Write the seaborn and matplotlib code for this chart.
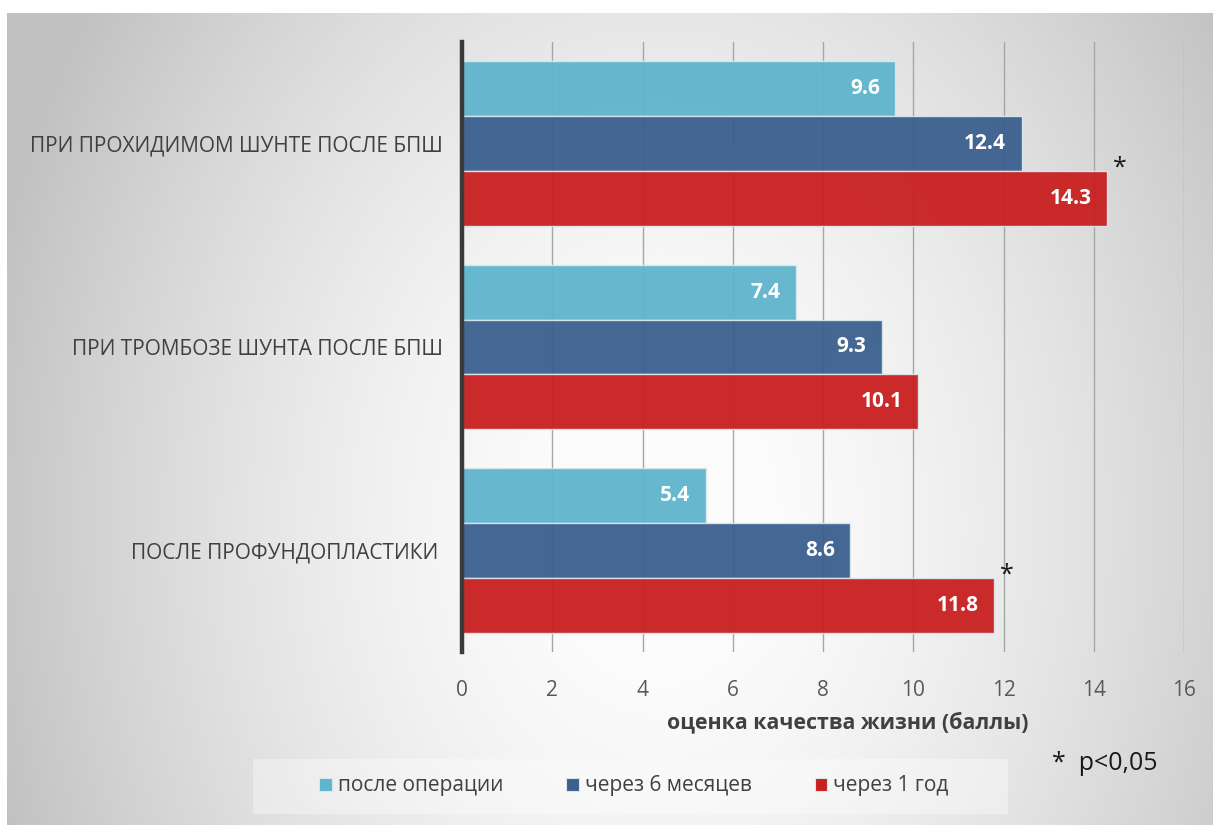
import numpy as np
import pandas as pd
import matplotlib
matplotlib.use("Agg")
import matplotlib.pyplot as plt
from matplotlib.patches import Rectangle, Patch
import seaborn as sns

sns.set_theme(style="white")
plt.rcParams["font.family"] = ["Open Sans", "DejaVu Sans"]

# Data
categories = [
    "ПРИ ПРОХИДИМОМ ШУНТЕ ПОСЛЕ БПШ",
    "ПРИ ТРОМБОЗЕ ШУНТА ПОСЛЕ БПШ",
    "ПОСЛЕ ПРОФУНДОПЛАСТИКИ ",
]
periods = ["после операции", "через 6 месяцев", "через 1 год"]
after_surgery = [9.6, 7.4, 5.4]
after_6_months = [12.4, 9.3, 8.6]
after_1_year = [14.3, 10.1, 11.8]
significant = [True, False, True]   # p<0,05 for the 1-year value
x_ticks = [0, 2, 4, 6, 8, 10, 12, 14, 16]

colors = ["#5fb5cc", "#3b5f8e", "#c8201f"]

rows = []
for period, vals in zip(periods, [after_surgery, after_6_months, after_1_year]):
    for cat, v in zip(categories, vals):
        rows.append({"category": cat, "period": period, "value": v})
df = pd.DataFrame(rows)

W, H = 1213, 825
fig = plt.figure(figsize=(W / 100, H / 100), dpi=100)
fig.patch.set_facecolor("white")

# Elliptical grey gradient panel, light in the middle
bg = fig.add_axes([7 / W, 0, (W - 7) / W, (H - 13) / H])
bg.set_axis_off()
yy, xx = np.mgrid[0:H - 13, 0:W - 7]
cx, cy = 650, 510
r = np.sqrt(((xx - cx) / 650.0) ** 2 + ((yy - cy) / 860.0) ** 2)
v = 1.0 - 0.22 * np.clip(r, 0, 1.1) ** 1.6
v = np.clip(v, 0.76, 0.985)
bg.imshow(np.dstack([v, v, v]), aspect="auto", extent=[0, 1, 0, 1], origin="upper")
bg.set_xlim(0, 1)
bg.set_ylim(0, 1)

ax = fig.add_axes([462 / W, 1 - 652 / H, (1184 - 462) / W, (652 - 42) / H])
ax.patch.set_alpha(0)

sns.barplot(data=df, y="category", x="value", hue="period", order=categories,
            hue_order=periods, palette=colors, saturation=1, orient="h",
            width=0.81, ax=ax, legend=False, edgecolor="#dbe6ec",
            linewidth=1.0, alpha=0.95, zorder=3)

ax.set_xlim(0, 16)
ax.set_ylim(2.5, -0.5)
ax.set_xticks(x_ticks)
ax.set_xticklabels([str(t) for t in x_ticks], fontsize=15, color="#595959")
ax.tick_params(axis="x", length=0, pad=20)
ax.set_yticks(range(len(categories)))
ax.set_yticklabels(categories, fontsize=15, color="#404040")
ax.tick_params(axis="y", length=0, pad=13.5)
ax.set_xlabel("")
ax.set_ylabel("")
ax.grid(axis="x", color="#a6a6a6", linewidth=1.0, zorder=0)
ax.grid(axis="y", visible=False)
for s in ["top", "right", "bottom"]:
    ax.spines[s].set_visible(False)
ax.spines["left"].set_color("#3a3a3a")
ax.spines["left"].set_linewidth(3.2)
ax.spines["left"].set_zorder(5)

# Value labels inside bar ends
for container, vals in zip(ax.containers, [after_surgery, after_6_months, after_1_year]):
    for patch, val in zip(container.patches, vals):
        ax.annotate(f"{val}", xy=(val, patch.get_y() + patch.get_height() / 2),
                    xytext=(-11, 0), textcoords="offset points", ha="right",
                    va="center", color="white", fontsize=15, fontweight="bold",
                    zorder=6)

# Significance marks
for container in ax.containers[2:]:
    for patch, val, sig in zip(container.patches, after_1_year, significant):
        if sig:
            ax.annotate("*", xy=(val, patch.get_y()), xytext=(9, 2),
                        textcoords="offset points", ha="center", va="center",
                        fontsize=18, color="#1a1a1a", zorder=6)

fig.text(848 / W, 1 - 722 / H, "оценка качества жизни (баллы)", ha="center",
         va="center", fontsize=15.4, fontweight="bold", color="#404040")

# Legend
fig.patches.append(Rectangle((253 / W, 1 - 814 / H), (1008 - 253) / W, 55 / H,
                             transform=fig.transFigure, facecolor="white",
                             alpha=0.35, edgecolor="none", zorder=1))
handles = [Patch(facecolor=c, edgecolor="#dbe6ec", linewidth=0.8) for c in colors]
fig.legend(handles, periods, loc="center", bbox_to_anchor=(634 / W, 1 - 786 / H),
           ncol=3, frameon=False, fontsize=15, handlelength=0.6,
           handleheight=0.6, handletextpad=0.3, columnspacing=3.0,
           labelcolor="#404040")

fig.text(1052 / W, 1 - 763 / H, "*  p<0,05", ha="left", va="center",
         fontsize=18, color="#1a1a1a")

fig.savefig("out.png", dpi=100)
